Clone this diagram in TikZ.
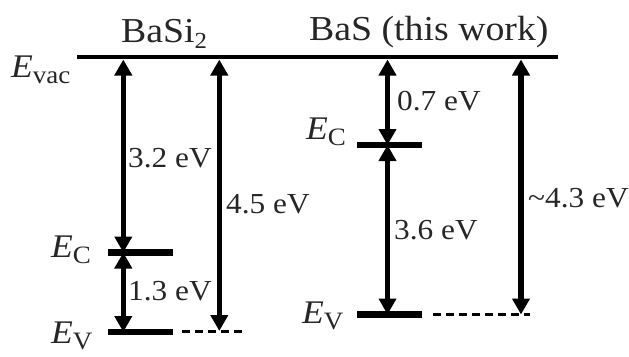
\documentclass[tikz,border=0pt]{standalone}
\usepackage{fontspec}
\setmainfont[FakeStretch=1.08]{Liberation Serif}
\usetikzlibrary{arrows.meta}
\newcommand{\lowsub}[2][25]{\raisebox{-6pt}{\fontsize{#1}{#1}\selectfont #2}}
\begin{document}
\begin{tikzpicture}[x=1pt,y=-1pt,
  lbl/.style={anchor=base west,inner sep=0pt,text=black!85},
  ttl/.style={lbl,font=\fontsize{35}{35}\selectfont},
  val/.style={lbl,font=\fontsize{29}{29}\selectfont},
  elev/.style={lbl,font=\fontsize{33}{33}\selectfont},
  vacline/.style={line width=4.5pt},
  lev/.style={line width=6.5pt},
  dline/.style={line width=3pt,dash pattern=on 8pt off 5pt},
  arr/.style={line width=5.5pt,{Triangle[width=17pt,length=16pt]}-{Triangle[width=17pt,length=16pt]}},
  sarr/.style={line width=5.5pt,-{Triangle[width=17pt,length=16pt]}}]
\useasboundingbox (0,0) rectangle (629,356);
% titles
\node[ttl] (t1) at (121,42) {BaSi\lowsub[23]{2}};
\node[ttl] (t2) at (309,40) {BaS (this work)};
% level labels
\node[elev] (evac) at (11,77) {\textit{E}\lowsub{vac}};
\node[elev] (ec1) at (51,257) {\textit{E}\lowsub{C}};
\node[elev] (ev1) at (51,343) {\textit{E}\lowsub{V}};
\node[elev] (ec2) at (306,139) {\textit{E}\lowsub{C}};
\node[elev] (ev2) at (302,323) {\textit{E}\lowsub{V}};
% coordinates
\coordinate (vacL) at (77,57);
\coordinate (vacR) at (558,57);
\coordinate (c1L) at (108,252.5); \coordinate (c1R) at (173,252.5);
\coordinate (v1L) at (108,332);   \coordinate (v1R) at (173,332);
\coordinate (d1L) at (182,331);   \coordinate (d1R) at (242,331);
\coordinate (c2L) at (357,145);   \coordinate (c2R) at (422,145);
\coordinate (v2L) at (357,314.5); \coordinate (v2R) at (422,314.5);
\coordinate (d2L) at (433,314.5); \coordinate (d2R) at (530,314.5);
\coordinate (a1t) at (123.3,59.5); \coordinate (a1m) at (123.3,252.5); \coordinate (a1b) at (123.3,332);
\coordinate (a2t) at (219.3,59.5); \coordinate (a2b) at (219.3,331);
\coordinate (b1t) at (387.5,59.5); \coordinate (b1m) at (387.5,145); \coordinate (b1b) at (387.5,314.5);
\coordinate (b2t) at (521,59.5);   \coordinate (b2b) at (521,314.5);
% levels
\draw[vacline] (vacL) -- (vacR);
\draw[lev] (c1L) -- (c1R);
\draw[lev] (v1L) -- (v1R);
\draw[dline] (d1L) -- (d1R);
\draw[lev] (c2L) -- (c2R);
\draw[lev] (v2L) -- (v2R);
\draw[dline] (d2L) -- (d2R);
% arrows
\draw[arr] (a1t) -- (a1m);
\draw[arr] (a1m) -- (a1b);
\draw[arr] (a2t) -- (a2b);
\draw[arr] (b1t) -- (b1m);
\draw[arr] (b1m) -- (b1b);
\draw[arr] (b2t) -- (b2b);
% values
\node[val] (l32) at (128,167) {3.2 eV};
\node[val] (l45) at (226,213) {4.5 eV};
\node[val] (l13) at (128,300) {1.3 eV};
\node[val] (l07) at (397,110) {0.7 eV};
\node[val] (l36) at (394,239) {3.6 eV};
\node[val] (l43) at (528,207) {\textasciitilde4.3 eV};
\end{tikzpicture}
\end{document}
